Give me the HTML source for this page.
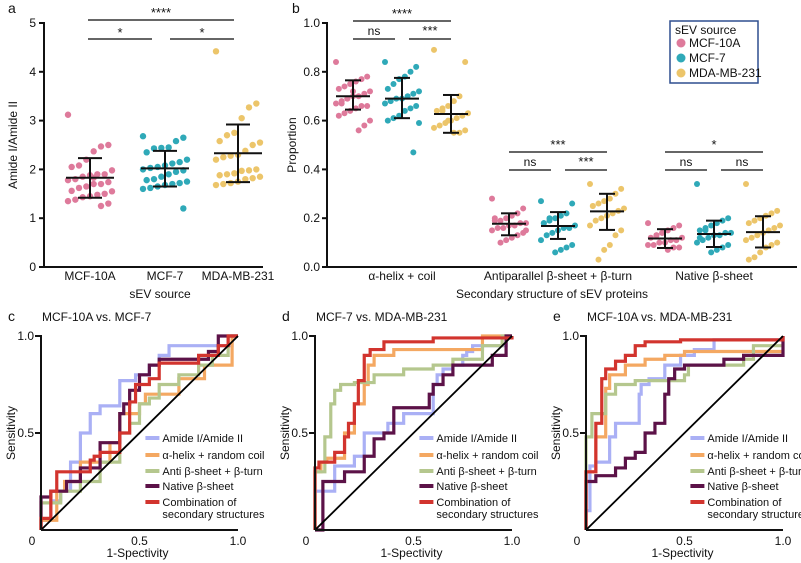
<!DOCTYPE html>
<html><head><meta charset="utf-8">
<style>
html,body{margin:0;padding:0;background:#fff;}
svg{display:block;font-family:"Liberation Sans",Arial,sans-serif;}
</style></head>
<body>
<svg id="fig" width="801" height="563" viewBox="0 0 801 563" xmlns="http://www.w3.org/2000/svg"></svg>
<script>
// ---------- Panel a data ----------
const aCategories = ["MCF-10A","MCF-7","MDA-MB-231"];
const aPink = [3.12,2.5,2.47,2.37,2.2,2.08,2.05,1.98,1.9,1.9,1.88,1.85,1.8,1.78,1.74,1.7,1.7,1.65,1.62,1.56,1.55,1.5,1.48,1.45,1.43,1.38,1.35,1.3,1.25,1.83];
const aCyan = [2.68,2.65,2.58,2.45,2.44,2.43,2.35,2.2,2.15,2.12,2.08,2.05,2.03,2.0,1.98,1.95,1.9,1.85,1.8,1.78,1.75,1.72,1.7,1.68,1.65,1.62,1.6,1.2];
const aYellow = [4.42,3.35,3.27,3.05,2.75,2.7,2.58,2.55,2.5,2.38,2.3,2.28,2.25,2.2,2.0,1.98,1.97,1.92,1.9,1.88,1.85,1.82,1.8,1.75,1.72,1.7,1.68];
const aMeans = [1.83,2.02,2.33];
const aLow = [1.42,1.65,1.74];
const aHigh = [2.23,2.38,2.92];
const aTicks = [0,1,2,3,4,5];

// ---------- Panel b data ----------
const bCategories = ["α-helix + coil","Antiparallel β-sheet  + β-turn","Native β-sheet"];
const bSources = ["MCF-10A","MCF-7","MDA-MB-231"];
const bHelix = [
 [0.84,0.78,0.77,0.76,0.75,0.74,0.73,0.72,0.71,0.70,0.70,0.69,0.68,0.67,0.66,0.66,0.65,0.64,0.63,0.62,0.60,0.58,0.56,0.72,0.69,0.67],
 [0.84,0.82,0.80,0.78,0.77,0.75,0.73,0.72,0.71,0.70,0.69,0.69,0.68,0.67,0.66,0.65,0.64,0.62,0.61,0.60,0.59,0.47],
 [0.89,0.84,0.70,0.68,0.66,0.65,0.64,0.63,0.62,0.61,0.60,0.59,0.58,0.57,0.56,0.55,0.55,0.60,0.64]];
const bAnti = [
 [0.28,0.24,0.22,0.21,0.2,0.19,0.19,0.18,0.18,0.17,0.17,0.16,0.16,0.15,0.14,0.13,0.12,0.11,0.10,0.20,0.15],
 [0.27,0.26,0.22,0.21,0.2,0.19,0.18,0.17,0.16,0.16,0.15,0.14,0.13,0.11,0.09,0.08,0.07,0.06,0.2,0.18],
 [0.34,0.32,0.30,0.28,0.27,0.26,0.25,0.24,0.23,0.22,0.21,0.2,0.19,0.17,0.15,0.13,0.09,0.07,0.03,0.25]];
const bNative = [
 [0.18,0.17,0.16,0.15,0.14,0.13,0.12,0.12,0.11,0.11,0.10,0.10,0.09,0.09,0.08,0.08,0.07,0.14,0.13],
 [0.34,0.20,0.19,0.18,0.17,0.16,0.15,0.14,0.14,0.13,0.13,0.12,0.11,0.10,0.09,0.08,0.07,0.06,0.15,0.12],
 [0.34,0.23,0.22,0.21,0.2,0.19,0.18,0.17,0.16,0.15,0.14,0.13,0.12,0.11,0.1,0.09,0.08,0.06,0.04,0.03]];
const bMeans = [[0.70,0.69,0.627],[0.177,0.168,0.228],[0.117,0.135,0.143]];
const bLow = [[0.645,0.61,0.55],[0.13,0.115,0.152],[0.078,0.082,0.08]];
const bHigh = [[0.765,0.775,0.705],[0.22,0.225,0.30],[0.155,0.19,0.208]];
const bSig = [["****","ns","***"],["***","ns","***"],["*","ns","ns"]];
const bTicks = [0,0.2,0.4,0.6,0.8,1.0];

// ---------- ROC data ----------
const rocNames = ["Amide I/Amide II","α-helix + random coil","Anti β-sheet + β-turn","Native β-sheet","Combination of"];
const rocC_amide = [[0,0],[0.05,0.05],[0.1,0.15],[0.15,0.2],[0.2,0.35],[0.2,0.45],[0.25,0.5],[0.3,0.6],[0.4,0.64],[0.48,0.77],[0.55,0.8],[0.6,0.85],[0.65,0.9],[0.67,0.95],[0.97,0.95],[1,1]];
const rocC_helix = [[0,0],[0.08,0.05],[0.12,0.2],[0.2,0.25],[0.35,0.35],[0.4,0.45],[0.4,0.52],[0.5,0.6],[0.53,0.65],[0.58,0.7],[0.7,0.7],[0.7,0.78],[0.83,0.78],[0.83,0.85],[0.97,0.85],[0.97,1],[1,1]];
const rocC_anti = [[0,0],[0,0.13],[0.1,0.14],[0.2,0.2],[0.3,0.25],[0.4,0.35],[0.45,0.5],[0.5,0.55],[0.55,0.65],[0.6,0.68],[0.7,0.75],[0.8,0.8],[0.87,0.85],[0.95,0.9],[0.97,1],[1,1]];
const rocC_native = [[0,0],[0,0.17],[0.05,0.17],[0.13,0.2],[0.2,0.25],[0.3,0.32],[0.4,0.45],[0.42,0.6],[0.45,0.65],[0.5,0.72],[0.55,0.8],[0.6,0.85],[0.85,0.88],[0.9,0.92],[1,1]];
const rocC_comb = [[0,0],[0.05,0.06],[0.08,0.2],[0.1,0.3],[0.25,0.3],[0.27,0.36],[0.3,0.38],[0.4,0.4],[0.45,0.5],[0.45,0.6],[0.48,0.66],[0.55,0.75],[0.6,0.78],[0.8,0.86],[0.8,0.9],[0.9,0.9],[0.95,0.95],[1,1]];

const rocD_amide = [[0,0],[0,0.2],[0.1,0.2],[0.1,0.33],[0.2,0.33],[0.25,0.38],[0.25,0.48],[0.37,0.5],[0.45,0.55],[0.6,0.6],[0.62,0.75],[0.65,0.8],[0.7,0.83],[0.75,0.85],[0.77,0.9],[0.8,0.92],[0.97,0.95],[1,1]];
const rocD_helix = [[0,0],[0.03,0.3],[0.06,0.35],[0.15,0.37],[0.2,0.5],[0.25,0.65],[0.27,0.75],[0.3,0.85],[0.4,0.9],[0.55,0.93],[0.85,0.93],[1,1]];
const rocD_anti = [[0,0],[0,0.25],[0.05,0.3],[0.08,0.48],[0.1,0.65],[0.13,0.72],[0.2,0.75],[0.3,0.76],[0.45,0.8],[0.6,0.83],[0.7,0.85],[0.85,0.88],[0.95,0.95],[1,1]];
const rocD_native = [[0,0],[0.04,0],[0.04,0.2],[0.15,0.25],[0.25,0.3],[0.3,0.38],[0.35,0.47],[0.4,0.5],[0.5,0.63],[0.58,0.63],[0.6,0.7],[0.65,0.75],[0.7,0.8],[0.9,0.85],[0.97,0.9],[1,1]];
const rocD_comb = [[0,0],[0.02,0.32],[0.1,0.35],[0.15,0.4],[0.17,0.48],[0.2,0.55],[0.22,0.65],[0.25,0.77],[0.28,0.9],[0.35,0.93],[0.38,0.97],[0.6,0.97],[0.6,0.99],[1,0.99],[1,1]];

const rocE_amide = [[0,0],[0.02,0.1],[0.05,0.33],[0.12,0.35],[0.15,0.48],[0.2,0.55],[0.27,0.55],[0.28,0.7],[0.32,0.75],[0.4,0.78],[0.48,0.85],[0.55,0.9],[0.65,0.93],[0.78,0.98],[1,0.98],[1,1]];
const rocE_helix = [[0,0],[0.05,0.3],[0.1,0.48],[0.12,0.73],[0.2,0.8],[0.3,0.85],[0.4,0.88],[0.5,0.9],[0.6,0.92],[1,0.92]];
const rocE_anti = [[0,0],[0,0.15],[0.03,0.48],[0.1,0.6],[0.15,0.7],[0.25,0.75],[0.5,0.77],[0.52,0.8],[0.8,0.85],[0.85,0.88],[1,0.95]];
const rocE_native = [[0,0],[0,0.2],[0.05,0.25],[0.15,0.28],[0.2,0.32],[0.25,0.37],[0.3,0.4],[0.35,0.5],[0.4,0.55],[0.42,0.7],[0.45,0.78],[0.5,0.83],[0.7,0.85],[0.8,0.88],[1,0.9],[1,1]];
const rocE_comb = [[0,0],[0,0.15],[0.05,0.3],[0.08,0.55],[0.1,0.78],[0.15,0.83],[0.2,0.87],[0.25,0.9],[0.3,0.95],[0.48,0.97],[0.5,0.98],[1,0.98],[1,1]];

const COLORS = ["#de7a9b","#2fa9b8","#ecc56a"];
const ROC_COLORS = ["#aab0f5","#f4a862","#b5c78e","#5c1248","#d2342e"];
const NS = "http://www.w3.org/2000/svg";
const svg = document.getElementById("fig");

function el(tag, attrs, parent){
  const e = document.createElementNS(NS, tag);
  for (const k in attrs) e.setAttribute(k, attrs[k]);
  (parent||svg).appendChild(e);
  return e;
}
function txt(s, x, y, size, anchor, parent, extra){
  const t = el("text", Object.assign({x:x, y:y, "font-size":size, "text-anchor":anchor||"start", fill:"#111"}, extra||{}), parent);
  t.textContent = s;
  return t;
}
function jit(i, spread){ return (((i*37)%13)/12 - 0.5)*2*spread; }

// ================= Panel a =================
(function(){
  const g = el("g", {});
  
  
  const x0 = 44, x1 = 263, yBase = 267, pxPer = 48.8;
  const ya = v => yBase - v*pxPer;
  const xc = [90,165,238];
  const lbl = txt("a", 8, 13, 14, "start", g);
  
  
  el("line",{x1:x0,y1:ya(5)-1,x2:x0,y2:yBase,stroke:"#111","stroke-width":2},g);
  el("line",{x1:x0,y1:yBase,x2:x1,y2:yBase,stroke:"#111","stroke-width":2},g);
  aTicks.forEach(t=>{
    el("line",{x1:x0-5,y1:ya(t),x2:x0,y2:ya(t),stroke:"#111","stroke-width":2},g);
    const tl = txt(String(t), x0-8, ya(t)+4, 12, "end", g);
    
    
  });
  aCategories.forEach((c,i)=>{
    const tl = txt(c, xc[i], 280, 12, "middle", g);
    
    
  });
  const xt = txt("sEV source", 160, 298, 12, "middle", g);
  
  
  const yt = txt("Amide I/Amide II", 0, 0, 12, "middle", g, {transform:"translate(17,145) rotate(-90)"});
  
  
  [aPink,aCyan,aYellow].forEach((arr,gi)=>{
    arr.forEach((v,i)=>{
      const c = el("circle",{cx:xc[gi]+jit(i,22),cy:ya(v),r:3.2,fill:COLORS[gi]},g);
      
      
    });
    const m = el("g",{stroke:"#111","stroke-width":2,fill:"none"},g);
    
    
    el("line",{x1:xc[gi]-24,y1:ya(aMeans[gi]),x2:xc[gi]+24,y2:ya(aMeans[gi])},m);
    el("line",{x1:xc[gi],y1:ya(aLow[gi]),x2:xc[gi],y2:ya(aHigh[gi])},m);
    el("line",{x1:xc[gi]-12,y1:ya(aLow[gi]),x2:xc[gi]+12,y2:ya(aLow[gi])},m);
    el("line",{x1:xc[gi]-12,y1:ya(aHigh[gi]),x2:xc[gi]+12,y2:ya(aHigh[gi])},m);
  });
  const sig = el("g",{stroke:"#333","stroke-width":1.6},g);
  
  
  el("line",{x1:88,y1:20,x2:234,y2:20},sig);
  el("line",{x1:88,y1:39,x2:152,y2:39},sig);
  el("line",{x1:170,y1:39,x2:234,y2:39},sig);
  txt("****",161,17,13,"middle",g);
  txt("*",120,37,13,"middle",g);
  txt("*",202,37,13,"middle",g);
})();

// ================= Panel b =================
(function(){
  const g = el("g", {});
  
  
  const x0 = 327, x1 = 797, yBase = 267, pxPer = 244;
  const yb = v => yBase - v*pxPer;
  const gc = [402,558,714];
  const off = [-49,0,49];
  const lbl = txt("b", 292, 13, 14, "start", g);
  
  
  el("line",{x1:x0,y1:yb(1)-1,x2:x0,y2:yBase,stroke:"#111","stroke-width":2},g);
  el("line",{x1:x0,y1:yBase,x2:x1,y2:yBase,stroke:"#111","stroke-width":2},g);
  bTicks.forEach(t=>{
    el("line",{x1:x0-5,y1:yb(t),x2:x0,y2:yb(t),stroke:"#111","stroke-width":2},g);
    const tl = txt(t.toFixed(1), x0-7, yb(t)+4, 12, "end", g);
    
    
  });
  bCategories.forEach((c,i)=>{
    const tl = txt(c, gc[i], 280, 12, "middle", g, {"xml:space":"preserve"});
    
    
  });
  const xt = txt("Secondary structure of sEV proteins", 552, 298, 12, "middle", g);
  
  
  const yt = txt("Proportion", 0, 0, 12, "middle", g, {transform:"translate(296,145) rotate(-90)"});
  
  
  [bHelix,bAnti,bNative].forEach((grp,ci)=>{
    grp.forEach((arr,si)=>{
      const cx = gc[ci]+off[si];
      arr.forEach((v,i)=>{
        const c = el("circle",{cx:cx+jit(i,17),cy:yb(v),r:3,fill:COLORS[si]},g);
        
        
      });
      const m = el("g",{stroke:"#111","stroke-width":2,fill:"none"},g);
      
      
      const mv = bMeans[ci][si], lo = bLow[ci][si], hi = bHigh[ci][si];
      el("line",{x1:cx-17,y1:yb(mv),x2:cx+17,y2:yb(mv)},m);
      el("line",{x1:cx,y1:yb(lo),x2:cx,y2:yb(hi)},m);
      el("line",{x1:cx-8,y1:yb(lo),x2:cx+8,y2:yb(lo)},m);
      el("line",{x1:cx-8,y1:yb(hi),x2:cx+8,y2:yb(hi)},m);
    });
    const sigTop = ci===0 ? 21 : 152;
    const sig = el("g",{stroke:"#333","stroke-width":1.6},g);
    
    
    const L = gc[ci]-49, R = gc[ci]+49;
    el("line",{x1:L,y1:sigTop,x2:R,y2:sigTop},sig);
    el("line",{x1:L,y1:sigTop+18,x2:gc[ci]-7,y2:sigTop+18},sig);
    el("line",{x1:gc[ci]+7,y1:sigTop+18,x2:R,y2:sigTop+18},sig);
    txt(bSig[ci][0], gc[ci], sigTop-3, 13, "middle", g);
    const s1 = bSig[ci][1], s2 = bSig[ci][2];
    txt(s1, (L+gc[ci]-7)/2, sigTop+14, s1==="ns"?12:13, "middle", g);
    txt(s2, (gc[ci]+7+R)/2, sigTop+14, s2==="ns"?12:13, "middle", g);
  });
  // legend
  const lg = el("g",{},g);
  
  
  el("rect",{x:670,y:21,width:88,height:62,fill:"#fff",stroke:"#2e4e8f","stroke-width":1.5},lg);
  txt("sEV source", 675, 34, 12, "start", lg);
  bSources.forEach((s,i)=>{
    const e = el("g",{},lg);
    
    
    el("circle",{cx:681,cy:43+i*15,r:4.5,fill:COLORS[i]},e);
    txt(s, 689, 47+i*15, 12, "start", e);
  });
})();

// ================= ROC panels =================
function rocPanel(name, letter, title, ox, series){
  const g = el("g", {});
  
  
  const oy = 530, W = 197, H = 194;
  const X = v => ox + v*W, Y = v => oy - v*H;
  const l = txt(letter, ox-33, 321, 14, "start", g);
  
  
  const t = txt(title, ox+1, 321, 12, "start", g);
  
  
  series.forEach((pts,si)=>{
    let d = "M"+X(pts[0][0])+","+Y(pts[0][1]);
    for (let i=1;i<pts.length;i++){
      d += " V"+Y(pts[i][1])+" H"+X(pts[i][0]);
    }
    const p = el("path",{d:d,fill:"none",stroke:ROC_COLORS[si],"stroke-width":3.2,"stroke-linejoin":"miter"},g);
    
    
  });
  const dg = el("line",{x1:X(0),y1:Y(0),x2:X(1),y2:Y(1),stroke:"#000","stroke-width":1.8},g);
  
  
  el("line",{x1:ox,y1:Y(1)-1,x2:ox,y2:oy,stroke:"#111","stroke-width":2},g);
  el("line",{x1:ox,y1:oy,x2:X(1),y2:oy,stroke:"#111","stroke-width":2},g);
  [0.5,1].forEach(v=>{
    el("line",{x1:ox-6,y1:Y(v),x2:ox,y2:Y(v),stroke:"#111","stroke-width":2},g);
    txt(v.toFixed(1), ox-7, Y(v)+4, 12, "end", g);
    txt(v.toFixed(1), X(v), oy+15, 12, "middle", g);
  });
  txt("0", ox-9, oy+15, 12, "middle", g);
  const xt = txt("1-Spectivity", X(0.5)-2, 557, 12, "middle", g);
  
  
  const yt = txt("Sensitivity", 0, 0, 12, "middle", g, {transform:"translate("+(ox-26)+",433) rotate(-90)"});
  
  
  const lx = X(0.53);
  const rows = [438,455,471,486,502];
  rocNames.forEach((n,i)=>{
    const e = el("g",{},g);
    
    
    el("line",{x1:lx,y1:rows[i],x2:lx+14,y2:rows[i],stroke:ROC_COLORS[i],"stroke-width":4},e);
    txt(n, lx+17, rows[i]+4, 11, "start", e);
  });
  txt("secondary structures", lx+17, rows[4]+16, 11, "start", g);
}
rocPanel("panel-c","c","MCF-10A vs. MCF-7",41,[rocC_amide,rocC_helix,rocC_anti,rocC_native,rocC_comb]);
rocPanel("panel-d","d","MCF-7 vs. MDA-MB-231",315,[rocD_amide,rocD_helix,rocD_anti,rocD_native,rocD_comb]);
rocPanel("panel-e","e","MCF-10A vs. MDA-MB-231",586,[rocE_amide,rocE_helix,rocE_anti,rocE_native,rocE_comb]);
</script>
</body></html>
